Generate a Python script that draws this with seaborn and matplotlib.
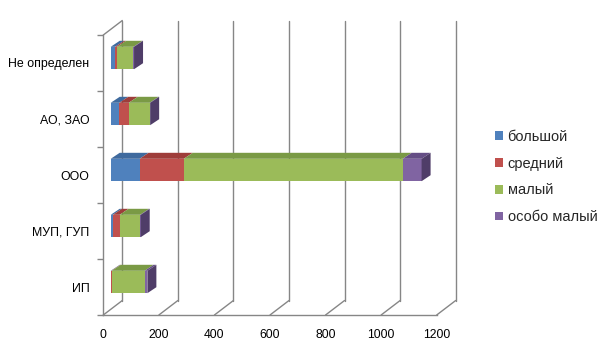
import numpy as np
import pandas as pd
import matplotlib
matplotlib.use("Agg")
import matplotlib.pyplot as plt
from matplotlib.patches import Patch
import seaborn as sns

#########################################################
# DATA
#########################################################

categories = ["Не определен", "АО, ЗАО", "ООО", "МУП, ГУП", "ИП"]
series_names = ["большой", "средний", "малый", "особо малый"]

bolshoy = [16, 31, 104, 8, 2]
sredniy = [7, 34, 159, 24, 2]
malyy = [59, 75, 788, 74, 118]
osobo_malyy = [2, 2, 68, 2, 10]

x_ticks = [0, 200, 400, 600, 800, 1000, 1200]

front_colors = ["#4F81BD", "#C0504D", "#9BBB59", "#8064A2"]
top_colors = ["#3F6A9E", "#9E3D3A", "#7A9A45", "#654E85"]
side_colors = ["#345889", "#833230", "#657F38", "#4F3D68"]

#########################################################
# STYLE
#########################################################

sns.set_theme(style="white")
plt.rcParams["font.family"] = ["Liberation Sans", "DejaVu Sans"]
line_col = "#868686"

W, H = 612, 352
fig = plt.figure(figsize=(W / 100, H / 100), dpi=100)

# front plane of the 3D box (pixel layout)
fx0, fx1 = 103.3, 436.7
fy_top, fy_bot = 35.0, 315.0
# depth offsets in pixels
bar_dx, bar_dy = 7.4, 5.0
back_dx, back_dy = 19.0, 14.5
face_dx, face_dy = 9.0, 6.0

px_per_unit = (fx1 - fx0) / 1200
px_per_cat = (fy_bot - fy_top) / len(categories)


def axes_rect(x0, ybot):
    return [x0 / W, (H - ybot) / H, (fx1 - fx0) / W, (fy_bot - fy_top) / H]


ax = fig.add_axes(axes_rect(fx0, fy_bot))
axb = fig.add_axes(axes_rect(fx0 + bar_dx, fy_bot - bar_dy))
axb.patch.set_alpha(0)

ylims = (len(categories) - 0.5, -0.5)
for a in (ax, axb):
    a.set_xlim(0, 1200)
    a.set_ylim(*ylims)

#########################################################
# WALLS AND FLOOR
#########################################################

ddx = back_dx / px_per_unit
ddy = back_dy / px_per_cat
yb, yt = ylims
for v in x_ticks:
    ax.plot([v + ddx, v + ddx], [yb - ddy, yt - ddy], color=line_col,
            lw=1, clip_on=False, zorder=1)
    ax.plot([v, v + ddx], [yb, yb - ddy], color=line_col, lw=1,
            clip_on=False, zorder=1)
ax.plot([0, ddx], [yt, yt - ddy], color=line_col, lw=1, clip_on=False, zorder=1)

#########################################################
# BARS
#########################################################

df = pd.DataFrame({"cat": categories, "b": bolshoy, "s": sredniy,
                   "m": malyy, "o": osobo_malyy})
cols = ["b", "s", "m", "o"]
cum = df[cols].cumsum(axis=1)

bar_h = 0.4
for i in reversed(range(4)):
    sns.barplot(x=cum[cols[i]], y=df["cat"], order=categories, color=front_colors[i],
                saturation=1, width=bar_h, orient="h", ax=axb, linewidth=0, zorder=3)

fdx = face_dx / px_per_unit
fdy = face_dy / px_per_cat
for c in range(len(categories)):
    top = c - bar_h / 2
    bot = c + bar_h / 2
    left = 0
    last = 0
    for i in range(4):
        right = cum.iloc[c, i]
        if right > left:
            axb.fill([left, right, right + fdx, left + fdx],
                     [top, top, top - fdy, top - fdy],
                     color=top_colors[i], lw=0, zorder=4, clip_on=False)
            last = i
        left = right
    R = cum.iloc[c, 3]
    axb.fill([R, R, R + fdx, R + fdx], [top, bot, bot - fdy, top - fdy],
             color=side_colors[last], lw=0, zorder=4, clip_on=False)

axb.set_xlim(0, 1200)
axb.set_ylim(*ylims)
axb.axis("off")

#########################################################
# AXES
#########################################################

ax.set_xticks(x_ticks)
ax.set_xticklabels([str(v) for v in x_ticks], fontsize=8.7, color="#000000")
ax.set_yticks(range(len(categories)))
ax.set_yticklabels(categories, fontsize=8.9, color="#000000")
ax.set_yticks(np.arange(-0.5, len(categories), 1), minor=True)
ax.tick_params(axis="x", which="major", length=3, color=line_col, pad=7)
ax.tick_params(axis="y", which="major", length=0, pad=10)
ax.tick_params(axis="y", which="minor", length=4, color=line_col, left=True)
for s in ["top", "right"]:
    ax.spines[s].set_visible(False)
for s in ["left", "bottom"]:
    ax.spines[s].set_color(line_col)
    ax.spines[s].set_linewidth(1)
ax.set_xlabel("")
ax.set_ylabel("")
ax.grid(False)

handles = [Patch(facecolor=col, edgecolor="none") for col in front_colors]
fig.legend(handles, series_names, loc="center left",
           bbox_to_anchor=(482 / W, 1 - 177 / H), frameon=False, fontsize=10.5,
           handlelength=0.55, handleheight=0.55, handletextpad=0.3, labelspacing=0.88)

fig.savefig("out.png", dpi=100)
